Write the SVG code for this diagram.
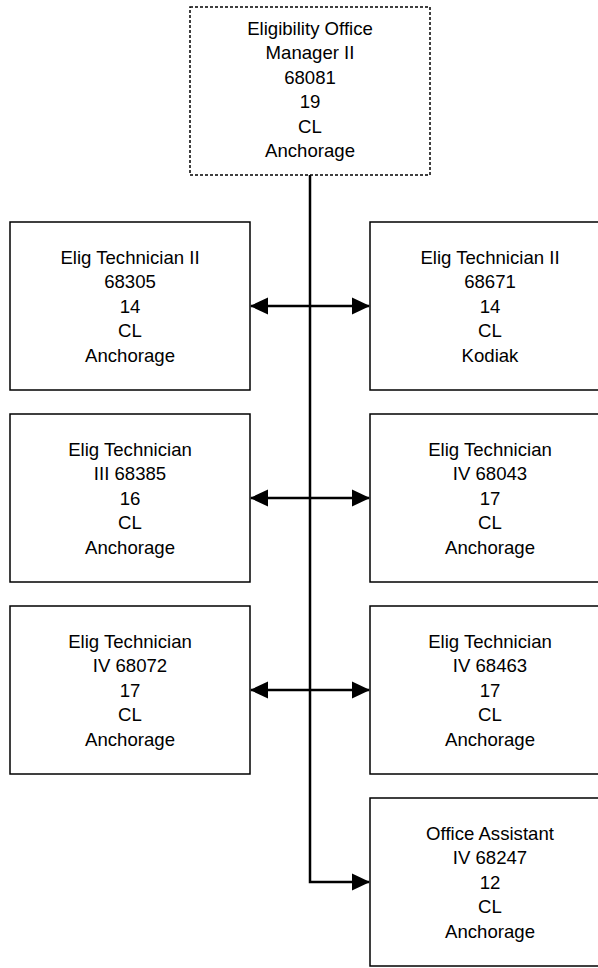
<svg xmlns="http://www.w3.org/2000/svg" width="598" height="968" viewBox="0 0 598 968">
<style>
.box{fill:#fff;stroke:#000;stroke-width:1.5}
.dash{stroke-dasharray:3 2}
.t{font-family:"Liberation Sans",Arial,sans-serif;font-size:18.6px;fill:#000;text-anchor:middle}
.c{fill:none;stroke:#000;stroke-width:2.5}
</style>
<defs>
<marker id="ah" markerUnits="userSpaceOnUse" markerWidth="18" markerHeight="18" viewBox="0 0 18 18" refX="17" refY="9" orient="auto-start-reverse">
<path d="M0,0.5 L18,9 L0,17.5 Z" fill="#000"/>
</marker>
</defs>
<g id="connectors">
<path class="c" d="M310,175 V882 H369" marker-end="url(#ah)"/>
<path class="c" d="M251,306 H369" marker-start="url(#ah)" marker-end="url(#ah)"/>
<path class="c" d="M251,498 H369" marker-start="url(#ah)" marker-end="url(#ah)"/>
<path class="c" d="M251,690 H369" marker-start="url(#ah)" marker-end="url(#ah)"/>
</g>
<g id="n0">
<rect class="box dash" x="190" y="7" width="240" height="168"/>
<text class="t" x="310" y="34.5">Eligibility Office</text>
<text class="t" x="310" y="59">Manager II</text>
<text class="t" x="310" y="83.5">68081</text>
<text class="t" x="310" y="108">19</text>
<text class="t" x="310" y="132.5">CL</text>
<text class="t" x="310" y="157">Anchorage</text>
</g>
<g id="n1">
<rect class="box" x="10" y="222" width="240" height="168"/>
<text class="t" x="130" y="263.5">Elig Technician II</text>
<text class="t" x="130" y="288">68305</text>
<text class="t" x="130" y="312.5">14</text>
<text class="t" x="130" y="337">CL</text>
<text class="t" x="130" y="361.5">Anchorage</text>
</g>
<g id="n2">
<rect class="box" x="370" y="222" width="240" height="168"/>
<text class="t" x="490" y="263.5">Elig Technician II</text>
<text class="t" x="490" y="288">68671</text>
<text class="t" x="490" y="312.5">14</text>
<text class="t" x="490" y="337">CL</text>
<text class="t" x="490" y="361.5">Kodiak</text>
</g>
<g id="n3">
<rect class="box" x="10" y="414" width="240" height="168"/>
<text class="t" x="130" y="455.5">Elig Technician</text>
<text class="t" x="130" y="480">III 68385</text>
<text class="t" x="130" y="504.5">16</text>
<text class="t" x="130" y="529">CL</text>
<text class="t" x="130" y="553.5">Anchorage</text>
</g>
<g id="n4">
<rect class="box" x="370" y="414" width="240" height="168"/>
<text class="t" x="490" y="455.5">Elig Technician</text>
<text class="t" x="490" y="480">IV 68043</text>
<text class="t" x="490" y="504.5">17</text>
<text class="t" x="490" y="529">CL</text>
<text class="t" x="490" y="553.5">Anchorage</text>
</g>
<g id="n5">
<rect class="box" x="10" y="606" width="240" height="168"/>
<text class="t" x="130" y="647.5">Elig Technician</text>
<text class="t" x="130" y="672">IV 68072</text>
<text class="t" x="130" y="696.5">17</text>
<text class="t" x="130" y="721">CL</text>
<text class="t" x="130" y="745.5">Anchorage</text>
</g>
<g id="n6">
<rect class="box" x="370" y="606" width="240" height="168"/>
<text class="t" x="490" y="647.5">Elig Technician</text>
<text class="t" x="490" y="672">IV 68463</text>
<text class="t" x="490" y="696.5">17</text>
<text class="t" x="490" y="721">CL</text>
<text class="t" x="490" y="745.5">Anchorage</text>
</g>
<g id="n7">
<rect class="box" x="370" y="798" width="240" height="168"/>
<text class="t" x="490" y="839.5">Office Assistant</text>
<text class="t" x="490" y="864">IV 68247</text>
<text class="t" x="490" y="888.5">12</text>
<text class="t" x="490" y="913">CL</text>
<text class="t" x="490" y="937.5">Anchorage</text>
</g>
</svg>
